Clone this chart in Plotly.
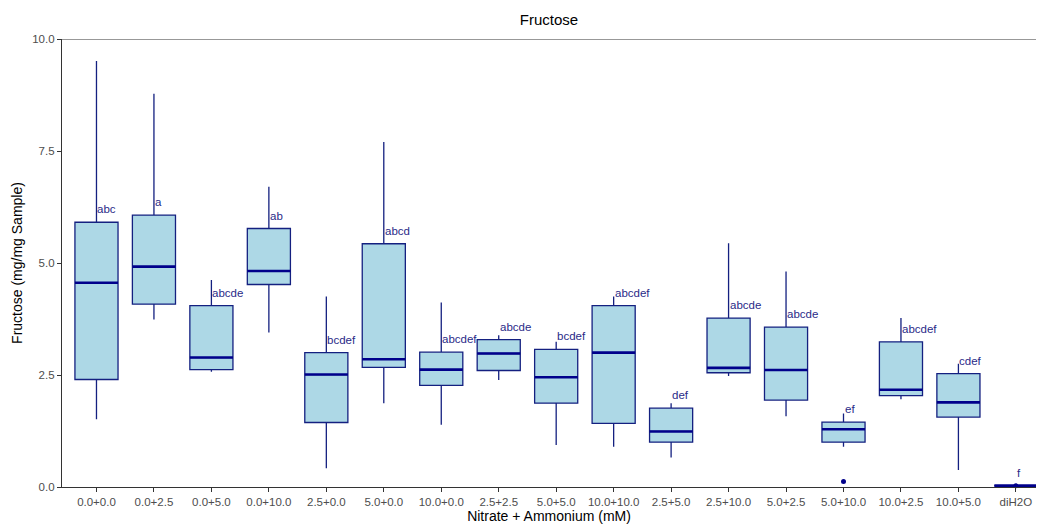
import plotly.graph_objects as go

categories = ["0.0+0.0", "0.0+2.5", "0.0+5.0", "0.0+10.0", "2.5+0.0", "5.0+0.0",
              "10.0+0.0", "2.5+2.5", "5.0+5.0", "10.0+10.0", "2.5+5.0", "2.5+10.0",
              "5.0+2.5", "5.0+10.0", "10.0+2.5", "10.0+5.0", "diH2O"]
lower_whisker = [1.51, 3.74, 2.57, 3.45, 0.42, 1.87, 1.39, 2.39, 0.94, 0.90, 0.66, 2.48, 1.58, 0.90, 1.96, 0.38, 0.03]
q1 =            [2.40, 4.08, 2.62, 4.52, 1.44, 2.67, 2.27, 2.60, 1.87, 1.42, 1.00, 2.55, 1.94, 1.00, 2.04, 1.56, 0.03]
median =        [4.56, 4.92, 2.89, 4.82, 2.51, 2.85, 2.62, 2.98, 2.45, 3.00, 1.24, 2.66, 2.61, 1.29, 2.17, 1.89, 0.03]
q3 =            [5.91, 6.07, 4.05, 5.77, 3.00, 5.43, 3.01, 3.29, 3.07, 4.05, 1.76, 3.77, 3.57, 1.45, 3.24, 2.53, 0.03]
upper_whisker = [9.51, 8.78, 4.62, 6.70, 4.25, 7.70, 4.12, 3.39, 3.24, 4.25, 1.87, 5.44, 4.81, 1.64, 3.77, 2.75, 0.03]
letters = ["abc", "a", "abcde", "ab", "bcdef", "abcd", "abcdef", "abcde", "bcdef",
           "abcdef", "def", "abcde", "abcde", "ef", "abcdef", "cdef", "f"]
outlier_cat = ["5.0+10.0", "diH2O"]
outlier_val = [0.12, 0.03]
y_ticks = [0.0, 2.5, 5.0, 7.5, 10.0]

pos = list(range(len(categories)))
BOX_W = 0.75
DARK = "#00008B"
FONT = "Liberation Sans, Arial"

fig = go.Figure()
fig.add_trace(go.Box(
    x=pos, q1=q1, median=median, q3=q3,
    lowerfence=lower_whisker, upperfence=upper_whisker,
    width=BOX_W, fillcolor="#ADD8E6",
    line=dict(color="#142080", width=1.3),
    whiskerwidth=0, boxpoints=False, showlegend=False, hoverinfo="skip"))

# thicker median lines
mx, my = [], []
for i, m in zip(pos, median):
    mx += [i - BOX_W / 2, i + BOX_W / 2, None]
    my += [m, m, None]
fig.add_trace(go.Scatter(x=mx, y=my, mode="lines", line=dict(color=DARK, width=2.6),
                         showlegend=False, hoverinfo="skip"))

# outliers
fig.add_trace(go.Scatter(x=[categories.index(c) for c in outlier_cat], y=outlier_val,
                         mode="markers", marker=dict(color=DARK, size=5),
                         showlegend=False, hoverinfo="skip", cliponaxis=False))

for i, (t, q) in enumerate(zip(letters, q3)):
    fig.add_annotation(x=i, y=q, text=t, showarrow=False, xanchor="left", yanchor="middle",
                       yshift=13, xshift=-1,
                       font=dict(family=FONT, size=11.5, color="#2A2A88"))

fig.add_shape(type="line", xref="paper", yref="y", x0=0, x1=1, y0=10, y1=10,
              line=dict(color="#333333", width=1.2))

fig.update_layout(
    width=1038, height=525,
    margin=dict(l=62, r=2, t=39, b=38),
    plot_bgcolor="white", paper_bgcolor="white",
    font=dict(family=FONT, color="#4D4D4D"),
    title=dict(text="Fructose", xref="paper", x=0.5, xanchor="center", y=0.962, yanchor="middle",
               font=dict(size=15, color="black")),
    xaxis=dict(tickmode="array", tickvals=pos, ticktext=categories, range=[-0.6, 16.35],
               showline=True, linecolor="#333333", linewidth=1.2, ticks="outside",
               ticklen=4, tickcolor="#333333", showgrid=False, zeroline=False,
               tickfont=dict(size=11.5, color="#4D4D4D"),
               title=dict(text="Nitrate + Ammonium (mM)", standoff=4,
                          font=dict(size=14, color="black"))),
    yaxis=dict(range=[0, 10], tickvals=y_ticks, ticktext=[f"{v:.1f}" for v in y_ticks],
               showline=True, linecolor="#333333", linewidth=1.2, ticks="outside",
               ticklen=4, tickcolor="#333333", showgrid=False, zeroline=False,
               tickfont=dict(size=11.5, color="#4D4D4D"),
               title=dict(text="Fructose (mg/mg Sample)", standoff=6,
                          font=dict(size=14, color="black"))),
)
fig.write_html("out.html")
